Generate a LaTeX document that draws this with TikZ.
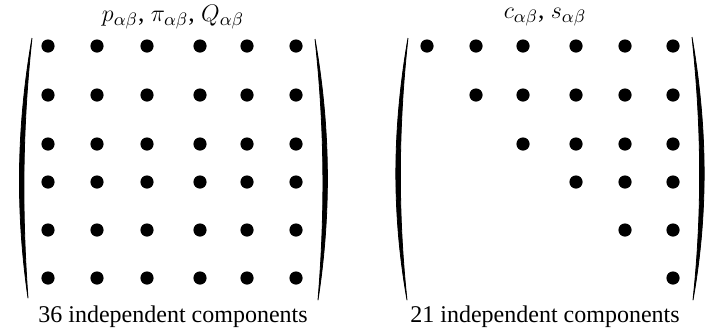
\documentclass[tikz,border=0pt]{standalone}
\usepackage{fontspec}
\setmainfont{Liberation Serif}
\usepackage{amsmath}
\usepackage{tikz}

\begin{document}
\begin{tikzpicture}[x=0.5pt, y=-0.5pt,
  entry/.style ={circle, fill=black, inner sep=0pt, minimum size=6.6pt},
  %
  paren/.style ={fill=black, draw=black, line width=.4pt, line join=round},
  %
  caption/.style ={font=\fontsize{12}{14}\selectfont, inner sep=0pt},
  %
  heading/.style ={font=\fontsize{12.8}{15}\selectfont, inner sep=0pt} ]

  \useasboundingbox (0,0) rectangle (718,333);

  \begin{scope}
    % full matrix
    \foreach \y [count=\i] in {46,95,144,182,230,278}
    \foreach \x [count=\j] in {48,97,147,200,247,296}
    \node [entry] (full-\i-\j) at (\x,\y) {};
    %%%%%%%%%%%%%%%%%%%%%%%%%%%%%%%
    \path [paren] (32,38) .. controls (16,130) and (16,215) .. (28,298)
      .. controls (22,215) and (22,130) .. (32,38);
    \path [paren] (315,39) .. controls (331,130) and (331,215) .. (318,300)
      .. controls (325,215) and (325,130) .. (315,39);
    %%%%%%%%%%%%%%%%%%%%%%%%%%%%%%%
    \node [heading] (fullTitle) at (173,17)
      {$p_{\alpha\beta}$, $\pi_{\alpha\beta}$, $Q_{\alpha\beta}$};
    \node [caption] (fullCount) at (173,317) {36 independent components};
  \end{scope}

  \begin{scope}
    % symmetric matrix
    \foreach \y [count=\i] in {46,95,144,182,230,278}
    \foreach \x [count=\j] in {427,476,523,576,625,673}
    {\ifnum\j<\i\else \node [entry] (sym-\i-\j) at (\x,\y) {};\fi}
    %%%%%%%%%%%%%%%%%%%%%%%%%%%%%%%
    \path [paren] (408,38) .. controls (392,130) and (392,215) .. (407,300)
      .. controls (398,215) and (398,130) .. (408,38);
    \path [paren] (692,37) .. controls (708,130) and (708,215) .. (693,300)
      .. controls (702,215) and (702,130) .. (692,37);
    %%%%%%%%%%%%%%%%%%%%%%%%%%%%%%%
    \node [heading] (symTitle) at (545,17)
      {$c_{\alpha\beta}$, $s_{\alpha\beta}$};
    \node [caption] (symCount) at (545,317) {21 independent components};
  \end{scope}

\end{tikzpicture}
\end{document}
